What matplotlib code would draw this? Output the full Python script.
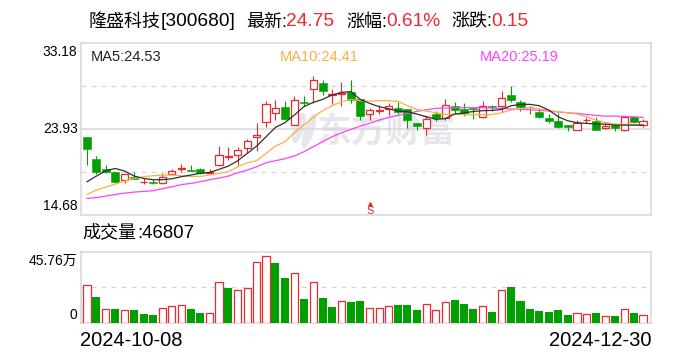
import numpy as np
import matplotlib
matplotlib.use("Agg")
import matplotlib.pyplot as plt
from matplotlib.patches import Ellipse
from matplotlib.transforms import IdentityTransform

plt.rcParams['font.family'] = ['Liberation Sans', 'Noto Sans CJK SC', 'DejaVu Sans']

open_p = [23.01,20.68,19.58,19.25,18.39,18.75,18.18,18.25,18.07,19.11,19.65,19.47,19.61,19.22,20.01,20.90,21.08,21.83,23.01,24.62,
          25.59,26.23,24.37,26.81,28.17,28.85,27.52,27.67,27.85,27.09,25.48,25.88,26.06,26.13,26.02,24.52,23.98,25.52,25.09,26.38,
          26.02,26.13,25.23,26.38,26.41,27.56,26.77,26.27,25.73,25.09,24.77,24.30,23.84,24.84,24.73,23.98,24.30,23.84,25.16,24.37]
close_p = [21.80,19.32,19.29,18.25,19.04,18.57,18.25,18.14,18.79,19.36,19.68,19.43,19.22,19.32,21.08,20.97,21.62,22.58,23.23,26.56,
           26.20,25.02,26.99,26.73,29.13,28.02,27.67,27.77,27.06,25.34,25.91,25.95,26.41,25.77,24.91,24.27,24.95,25.12,26.45,25.95,
           25.66,26.09,26.41,26.23,27.20,27.02,26.31,26.23,25.20,24.77,24.12,24.16,24.59,24.87,23.84,24.23,24.05,25.16,24.69,24.73]
high_p = [23.01,21.01,20.01,19.25,19.04,19.25,18.61,18.50,19.15,19.58,20.15,20.01,19.68,19.58,22.08,21.94,21.94,22.83,24.52,26.91,
          27.02,26.91,27.45,27.45,29.60,29.17,28.17,28.99,29.17,27.09,26.13,26.48,26.66,26.81,26.02,24.52,25.30,25.88,27.13,26.81,
          26.66,26.13,26.91,26.48,27.99,28.53,27.02,26.38,26.13,25.52,25.59,24.30,24.87,25.23,25.16,24.52,24.52,25.16,25.30,24.95]
low_p = [20.04,19.07,19.15,18.07,18.07,18.50,18.00,18.00,17.97,19.04,19.29,19.36,19.07,19.15,19.93,20.58,20.04,21.29,21.58,24.15,
         24.87,24.87,24.37,26.38,26.73,27.56,26.59,26.38,26.73,24.87,24.87,25.52,25.41,25.52,24.02,23.80,23.26,24.77,24.87,25.52,
         25.30,25.02,25.12,25.80,25.70,26.81,25.88,25.52,25.12,24.52,24.02,23.73,23.84,24.59,23.84,23.94,23.73,23.73,24.59,24.16]

ma5 = [18.25,18.86,19.43,19.68,19.40,18.86,18.61,18.47,18.47,18.57,18.79,18.97,19.15,19.25,19.58,19.93,20.51,21.29,22.08,23.08,
       24.09,24.59,25.41,26.31,26.77,27.09,27.56,27.85,27.92,27.09,26.66,26.31,26.09,25.84,25.77,25.52,25.23,24.95,25.02,25.52,
       25.63,25.80,25.88,25.91,26.02,26.41,26.56,26.56,26.41,25.95,25.23,24.80,24.59,24.52,24.44,24.44,24.33,24.33,24.33,24.33]
ma10 = [16.89,17.36,17.68,18.00,18.32,18.61,18.79,18.90,18.97,18.97,18.90,18.82,18.82,18.97,19.15,19.32,19.86,20.29,20.51,21.29,
        22.08,22.55,23.51,24.34,25.16,25.88,26.41,26.84,27.09,26.95,26.91,26.95,26.95,26.88,26.41,26.02,25.84,25.66,25.48,25.48,
        25.45,25.45,25.45,25.48,25.66,25.95,26.09,26.20,26.06,25.91,25.77,25.66,25.52,25.23,24.87,24.62,24.44,24.41,24.37,24.37]
ma20 = [16.46,16.56,16.71,16.89,17.03,17.14,17.21,17.28,17.50,17.71,17.93,18.07,18.25,18.47,18.64,18.86,19.22,19.50,19.86,20.29,
        20.51,20.72,21.01,21.47,22.01,22.55,23.08,23.51,23.87,24.23,24.52,24.87,25.16,25.37,25.59,25.80,25.98,26.13,26.16,26.20,
        26.20,26.20,26.20,26.16,26.13,26.06,26.02,25.98,25.91,25.84,25.73,25.66,25.59,25.48,25.37,25.30,25.30,25.27,25.23,25.16]

# volume in units of 万
volume = [24.06,16.5,8.6,8.8,7.9,8.2,5.6,4.9,9.2,10.5,11.2,8.8,6.2,6.0,26.0,22.3,20.8,22.3,38.9,42.7,
          38.5,28.8,31.8,15.3,26.0,15.9,10.1,13.7,13.3,14.0,9.2,9.2,10.5,11.4,11.4,8.2,11.8,7.9,13.1,14.6,
          12.0,8.8,10.5,6.9,20.8,23.0,14.0,8.8,7.5,6.9,8.2,4.9,6.0,5.4,6.2,4.1,4.3,8.6,6.2,4.68]
vol_up = [1,0,1,0,1,0,0,0,1,1,1,0,0,1,1,0,1,1,1,1,
          0,0,1,0,1,0,0,1,0,0,1,1,1,0,0,0,1,1,1,0,
          0,0,1,0,1,0,0,0,0,0,0,0,1,1,0,1,0,1,0,1]

price_ticks = [14.68, 23.93, 33.18]
price_labels = ["14.68", "23.93", "33.18"]
vol_top = 45.76
date_labels = ["2024-10-08", "2024-12-30"]

RED = "#f0282d"
GREEN = "#00a000"
GRID = "#d6d6dc"
ORANGE = "#f8b040"
MAGENTA = "#ff40ff"
W, H = 688, 360


def make_axes(left, top, right, bottom):
    return fig.add_axes([left / W, 1 - bottom / H, (right - left) / W, (bottom - top) / H])


fig = plt.figure(figsize=(W / 100, H / 100), dpi=100)
ax = make_axes(80.5, 42.7, 651.3, 215)
vax = make_axes(80.5, 251.7, 651.3, 322.7)

x = np.arange(len(open_p))
opens, closes = np.array(open_p), np.array(close_p)
up = closes >= opens

# watermark goes under the candles
ax.text(31.8, 23.7, "东方财富", fontsize=25, fontweight="bold", color="#e6e7ec",
        ha="center", va="center", zorder=0, family=['Noto Sans CJK SC'])
for cx, cy, w, h, ang in [(299, 360 - 128, 10, 32, -18), (309, 360 - 131, 10, 36, -18)]:
    ax.add_patch(Ellipse((cx, cy), w, h, angle=ang, color="#e6e7ec", lw=0,
                         transform=IdentityTransform(), zorder=0))

# candles
ax.vlines(x[up], np.array(low_p)[up], np.array(high_p)[up], color=RED, lw=0.8, zorder=2)
ax.vlines(x[~up], np.array(low_p)[~up], np.array(high_p)[~up], color=GREEN, lw=0.8, zorder=2)
ax.bar(x[up], (closes - opens)[up], bottom=opens[up], width=0.76, facecolor="white",
       edgecolor=RED, lw=0.9, zorder=3)
ax.bar(x[~up], (opens - closes)[~up], bottom=closes[~up], width=0.85, color=GREEN,
       edgecolor=GREEN, lw=0.4, zorder=3)

ax.plot(x, ma20, color=MAGENTA, lw=0.9, zorder=4)
ax.plot(x, ma10, color=ORANGE, lw=0.9, zorder=5)
ax.plot(x, ma5, color="#303030", lw=0.9, zorder=6)

# S marker
ax.text(30, 14.78, "S", color=RED, fontsize=8, ha="center", va="baseline", zorder=6)
ax.plot([30], [15.85], marker="^", ms=2.6, color=RED, zorder=6)

ax.set_xlim(-0.69, 59.88)
ax.set_ylim(14.68, 33.18)
ax.set_xticks([])
ax.set_yticks([])
ax.axhline(23.93, color=GRID, lw=1.1, zorder=1)
for frac in [0.25, 0.75]:
    ax.axhline(14.68 + 18.5 * frac, color=GRID, lw=0.9, ls=(0, (4, 4)), zorder=1)

# tick labels sit a few pixels inside the axis ends
for val, txt, dy in zip(price_ticks, price_labels, [9, 0, -9]):
    ax.annotate(txt, xy=(0, val), xycoords=("axes fraction", "data"), xytext=(-3, dy),
                textcoords="offset pixels", ha="right", va="center", fontsize=10)

# volume bars
vols = np.array(volume)
flags = np.array(vol_up, dtype=bool)
vax.bar(x[flags], vols[flags], width=0.76, facecolor="white", edgecolor=RED, lw=0.9, zorder=3)
vax.bar(x[~flags], vols[~flags], width=0.85, color=GREEN, zorder=3)
vax.axhline(vol_top / 2, color=GRID, lw=0.9, ls=(0, (4, 4)), zorder=1)
vax.set_xlim(-0.69, 59.88)
vax.set_ylim(0, vol_top)
vax.set_xticks([])
vax.set_yticks([])
for val, txt, dy in zip([0, vol_top], ["0", "45.76万"], [8, -9]):
    vax.annotate(txt, xy=(0, val), xycoords=("axes fraction", "data"), xytext=(-3, dy),
                 textcoords="offset pixels", ha="right", va="center", fontsize=10)

for a in (ax, vax):
    for s in a.spines.values():
        s.set_color(GRID)
        s.set_linewidth(1.1)


def label(px, py, s, color="black", size=13.8, ha="left"):
    fig.text(px / W, 1 - py / H, s, color=color, fontsize=size, ha=ha, va="center")


# header row
label(88, 22, "隆盛科技", size=13)
label(161, 22, "[300680]")
label(246, 22, "最新:", size=13)
label(286, 22, "24.75", RED)
label(346, 22, "涨幅:", size=13)
label(386, 22, "0.61%", RED)
label(451, 22, "涨跌:", size=13)
label(491, 22, "0.15", RED)

label(90.5, 57, "MA5:24.53", "#222222", 10.5)
label(280, 57, "MA10:24.41", ORANGE, 10.5)
label(480, 57, "MA20:25.19", MAGENTA, 10.5)

label(82, 233, "成交量", "black", 13)
label(137, 233, ":46807", "black", 13.4)
label(80, 341, date_labels[0], "black", 14.5)
label(652, 341, date_labels[1], "black", 14.5, ha="right")

fig.savefig("out.png", dpi=100)
